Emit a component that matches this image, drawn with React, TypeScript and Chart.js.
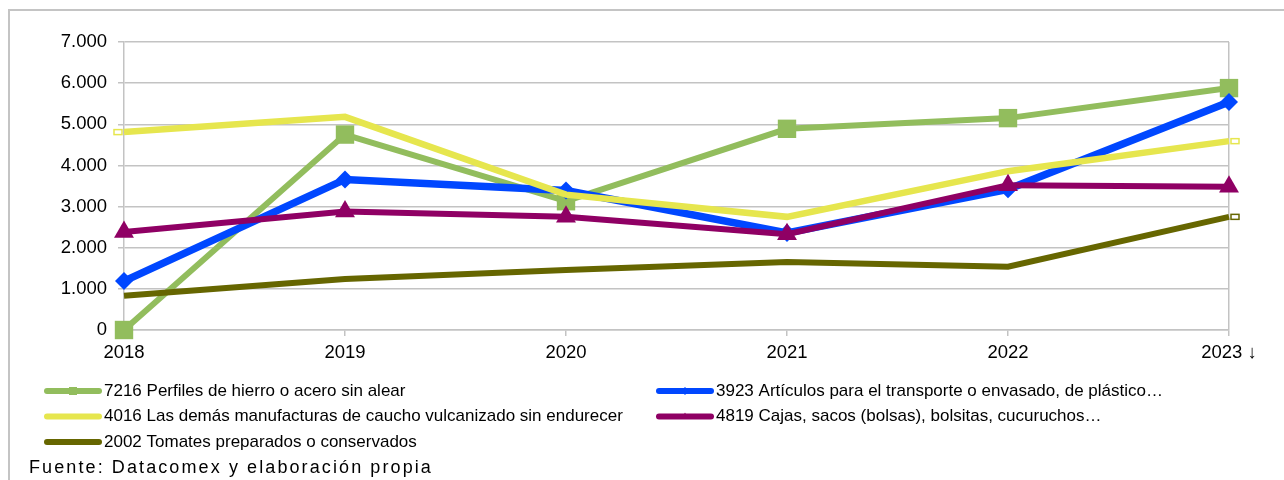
import React, { useEffect, useRef } from "react";
import { Chart, registerables } from "chart.js";

Chart.register(...registerables);

const years = ["2018", "2019", "2020", "2021", "2022", "2023 ↓"];
const yTicks = [0, 1000, 2000, 3000, 4000, 5000, 6000, 7000];

const perfiles7216 = [0, 4750, 3130, 4890, 5150, 5880];
const articulos3923 = [1190, 3660, 3390, 2360, 3420, 5540];
const caucho4016 = [4810, 5180, 3290, 2750, 3860, 4590];
const cajas4819 = [2380, 2880, 2750, 2330, 3520, 3480];
const tomates2002 = [830, 1240, 1460, 1650, 1540, 2750];

const seriesNames = [
  "7216 Perfiles de hierro o acero sin alear",
  "3923 Artículos para el transporte o envasado, de plástico…",
  "4016 Las demás manufacturas de caucho vulcanizado sin endurecer",
  "4819 Cajas, sacos (bolsas), bolsitas, cucuruchos…",
  "2002 Tomates preparados o conservados",
];
const sourceText = "Fuente: Datacomex y elaboración propia";

const GREEN = "#92bd5d";
const BLUE = "#0047ff";
const YELLOW = "#e6e64e";
const PURPLE = "#8f0064";
const OLIVE = "#666600";
const GRID = "#c3c3c3";
const FONT = "'Liberation Sans', Arial, sans-serif";

function fmt(v: number): string {
  return String(v).replace(/\B(?=(\d{3})+(?!\d))/g, ".");
}

function drawMarker(ctx: CanvasRenderingContext2D, kind: string, x: number, y: number, r: number, color: string) {
  ctx.save();
  ctx.fillStyle = color;
  ctx.beginPath();
  if (kind === "rect") {
    ctx.rect(x - r, y - r, 2 * r, 2 * r);
  } else if (kind === "rectRot") {
    ctx.moveTo(x, y - r);
    ctx.lineTo(x + r, y);
    ctx.lineTo(x, y + r);
    ctx.lineTo(x - r, y);
    ctx.closePath();
  } else if (kind === "triangle") {
    ctx.moveTo(x, y - r);
    ctx.lineTo(x + r * 0.9, y + r * 0.6);
    ctx.lineTo(x - r * 0.9, y + r * 0.6);
    ctx.closePath();
  }
  ctx.fill();
  ctx.restore();
}

const overlay = {
  id: "overlay",
  beforeDraw(chart: any) {
    const ctx = chart.ctx as CanvasRenderingContext2D;
    ctx.save();
    ctx.fillStyle = "#ffffff";
    ctx.fillRect(0, 0, chart.width, chart.height);
    ctx.strokeStyle = "#c4c4c4";
    ctx.lineWidth = 2;
    ctx.beginPath();
    ctx.moveTo(9, chart.height);
    ctx.lineTo(9, 10);
    ctx.lineTo(chart.width, 10);
    ctx.stroke();
    ctx.restore();
  },
  afterDatasetsDraw(chart: any) {
    const ctx = chart.ctx as CanvasRenderingContext2D;
    const xs = chart.scales.x;
    const ys = chart.scales.y;
    const cap = (idx: number, val: number, color: string, side: number) => {
      const px = xs.getPixelForValue(idx);
      const py = ys.getPixelForValue(val);
      const x0 = side > 0 ? px + 2 : px - 10;
      ctx.save();
      ctx.fillStyle = "#ffffff";
      ctx.strokeStyle = color;
      ctx.lineWidth = 1.5;
      ctx.fillRect(x0, py - 2.5, 8, 5);
      ctx.strokeRect(x0, py - 2.5, 8, 5);
      ctx.restore();
    };
    cap(0, caucho4016[0], YELLOW, -1);
    cap(5, caucho4016[5], YELLOW, 1);
    cap(5, tomates2002[5], OLIVE, 1);
  },
  afterDraw(chart: any) {
    const ctx = chart.ctx as CanvasRenderingContext2D;
    const entries = [
      { name: seriesNames[0], color: GREEN, marker: "rect", x: 45, y: 391 },
      { name: seriesNames[1], color: BLUE, marker: "rectRot", x: 657, y: 391 },
      { name: seriesNames[2], color: YELLOW, marker: "", x: 45, y: 416.5 },
      { name: seriesNames[3], color: PURPLE, marker: "triangle", x: 657, y: 416.5 },
      { name: seriesNames[4], color: OLIVE, marker: "", x: 45, y: 442 },
    ];
    ctx.save();
    entries.forEach((e) => {
      ctx.strokeStyle = e.color;
      ctx.lineWidth = 6;
      ctx.lineCap = "round";
      ctx.beginPath();
      ctx.moveTo(e.x + 2, e.y);
      ctx.lineTo(e.x + 54, e.y);
      ctx.stroke();
      if (e.marker) drawMarker(ctx, e.marker, e.x + 28, e.y, 4, e.color);
      ctx.fillStyle = "#000000";
      ctx.font = `17px ${FONT}`;
      ctx.textBaseline = "middle";
      ctx.textAlign = "left";
      ctx.fillText(e.name, e.x + 59, e.y);
    });
    ctx.font = `18px ${FONT}`;
    (ctx as any).letterSpacing = "2.1px";
    ctx.fillStyle = "#000000";
    ctx.textBaseline = "middle";
    ctx.fillText(sourceText, 29, 468);
    ctx.restore();
  },
};

export default function App() {
  const ref = useRef<HTMLCanvasElement | null>(null);
  useEffect(() => {
    document.body.style.margin = "0";
    const canvas = ref.current;
    if (!canvas) return;
    const chart = new Chart(canvas, {
      type: "line",
      data: {
        labels: years,
        datasets: [
          {
            label: seriesNames[0],
            data: perfiles7216,
            borderColor: GREEN,
            backgroundColor: GREEN,
            borderWidth: 6,
            pointStyle: "rect",
            pointRadius: 13,
            pointBorderWidth: 0,
            clip: false,
            order: 5,
          },
          {
            label: seriesNames[1],
            data: articulos3923,
            borderColor: BLUE,
            backgroundColor: BLUE,
            borderWidth: 7.5,
            pointStyle: "rectRot",
            pointRadius: 9,
            pointBorderWidth: 0,
            clip: false,
            order: 4,
          },
          {
            label: seriesNames[2],
            data: caucho4016,
            borderColor: YELLOW,
            backgroundColor: YELLOW,
            borderWidth: 6.5,
            pointRadius: 0,
            clip: false,
            order: 3,
          },
          {
            label: seriesNames[3],
            data: cajas4819,
            borderColor: PURPLE,
            backgroundColor: PURPLE,
            borderWidth: 6,
            pointStyle: "triangle",
            pointRadius: 11.5,
            pointBorderWidth: 0,
            clip: false,
            order: 2,
          },
          {
            label: seriesNames[4],
            data: tomates2002,
            borderColor: OLIVE,
            backgroundColor: OLIVE,
            borderWidth: 6,
            pointRadius: 0,
            clip: false,
            order: 1,
          },
        ],
      },
      options: {
        animation: false,
        responsive: false,
        devicePixelRatio: 1,
        layout: { padding: { left: 0, top: 42, right: 55, bottom: 120 } },
        plugins: {
          legend: { display: false },
          tooltip: { enabled: false },
          title: { display: false },
        },
        elements: { line: { tension: 0, borderJoinStyle: "miter", borderCapStyle: "butt" } },
        scales: {
          x: {
            type: "category",
            offset: false,
            afterFit: (s: any) => {
              s.height = 30;
            },
            grid: {
              display: true,
              drawOnChartArea: true,
              color: (c: any) => (c.index === years.length - 1 ? GRID : "rgba(0,0,0,0)"),
              tickColor: GRID,
              tickLength: 6,
              lineWidth: 1.5,
            },
            border: { display: true, color: GRID, width: 1.5 },
            ticks: {
              color: "#000000",
              font: { family: FONT, size: 18.5 },
              padding: 5.5,
              maxRotation: 0,
              autoSkip: false,
            },
          },
          y: {
            min: 0,
            max: 7000,
            afterFit: (s: any) => {
              s.width = 124;
            },
            afterBuildTicks: (s: any) => {
              s.ticks = yTicks.map((v) => ({ value: v }));
            },
            grid: {
              color: GRID,
              lineWidth: 1.5,
              tickLength: 6,
              tickColor: GRID,
            },
            border: { display: true, color: GRID, width: 1.5 },
            ticks: {
              color: "#000000",
              font: { family: FONT, size: 18.5 },
              padding: 11,
              callback: (v: any) => fmt(Number(v)),
            },
          },
        },
      },
      plugins: [overlay],
    } as any);
    return () => chart.destroy();
  }, []);
  return (
    <div style={{ width: 1284, height: 480 }}>
      <canvas ref={ref} width={1284} height={480} style={{ display: "block" }} />
    </div>
  );
}
